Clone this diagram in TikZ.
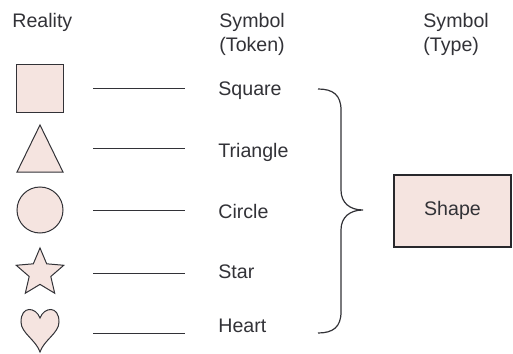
\documentclass[tikz,border=0pt]{standalone}
\usepackage{fontspec}
\setmainfont{Liberation Sans}
\usetikzlibrary{shapes.geometric}
\definecolor{pinkfill}{RGB}{245,228,224}
\definecolor{inkgray}{RGB}{50,50,55}
\begin{document}
\begin{tikzpicture}[x=0.5pt, y=-0.5pt,
    every node/.style={font=\fontsize{9.8}{12}\selectfont, text=inkgray, inner sep=0pt},
    thing/.style={draw=inkgray, fill=pinkfill, line width=0.5pt},
    head/.style={anchor=north west, align=left},
    token/.style={anchor=base west},
    link/.style={draw=inkgray, line width=0.5pt, shorten <=26.5pt, shorten >=16.5pt},
    typebox/.style={rectangle, draw=inkgray!80!black, fill=pinkfill, line width=1pt, minimum width=58.5pt, minimum height=36pt}
]
    \useasboundingbox (0,0) rectangle (513,353);

    % column headings
    \node [anchor=base west] (reality) at (12,28) {Reality};
    \node [head] (tokenhead) at (219,13) {Symbol\\(Token)};
    \node [head] (typehead) at (423,13) {Symbol\\(Type)};

    % things in reality
    \node [thing, rectangle, minimum size=23.5pt] (sq) at (40,88.5) {};
    \draw [thing] (40,125) -- (63,172) -- (17,172) -- cycle;
    \coordinate (tri) at (40,148);
    \node [thing, circle, minimum size=23pt] (circ) at (40,210) {};
    \node [thing, star, star points=5, star point ratio=2.2, minimum size=25pt] (st) at (40,273) {};
    \draw [thing] (40,318) .. controls (36,307) and (21,305) .. (21,322)
        .. controls (21,333) and (36,340) .. (40,352)
        .. controls (44,340) and (59,333) .. (59,322)
        .. controls (59,305) and (44,307) .. (40,318) -- cycle;
    \coordinate (hrt) at (40,333);

    % tokens
    \node [token] (tsq) at (218,96) {Square};
    \node [token] (ttri) at (218,157) {Triangle};
    \node [token] (tcirc) at (218,218) {Circle};
    \node [token] (tst) at (218,278) {Star};
    \node [token] (thrt) at (218,332) {Heart};

    \draw [link] (sq.center) -- (sq.center -| tsq.west);
    \draw [link] (tri) -- (tri -| ttri.west);
    \draw [link] (circ.center) -- (circ.center -| tcirc.west);
    \draw [link] (st.center) -- (st.center -| tst.west);
    \draw [link] (hrt) -- (hrt -| thrt.west);

    % brace and type
    \draw [inkgray, line width=0.6pt] (318,89) .. controls (333,89) and (341,95) .. (341,110)
        -- (341,190) .. controls (341,203) and (350,210) .. (363,210)
        .. controls (350,210) and (341,217) .. (341,230)
        -- (341,312) .. controls (341,327) and (333,333) .. (318,333);
    \node [typebox] (shape) at (452.5,210.5) {Shape};
\end{tikzpicture}
\end{document}
